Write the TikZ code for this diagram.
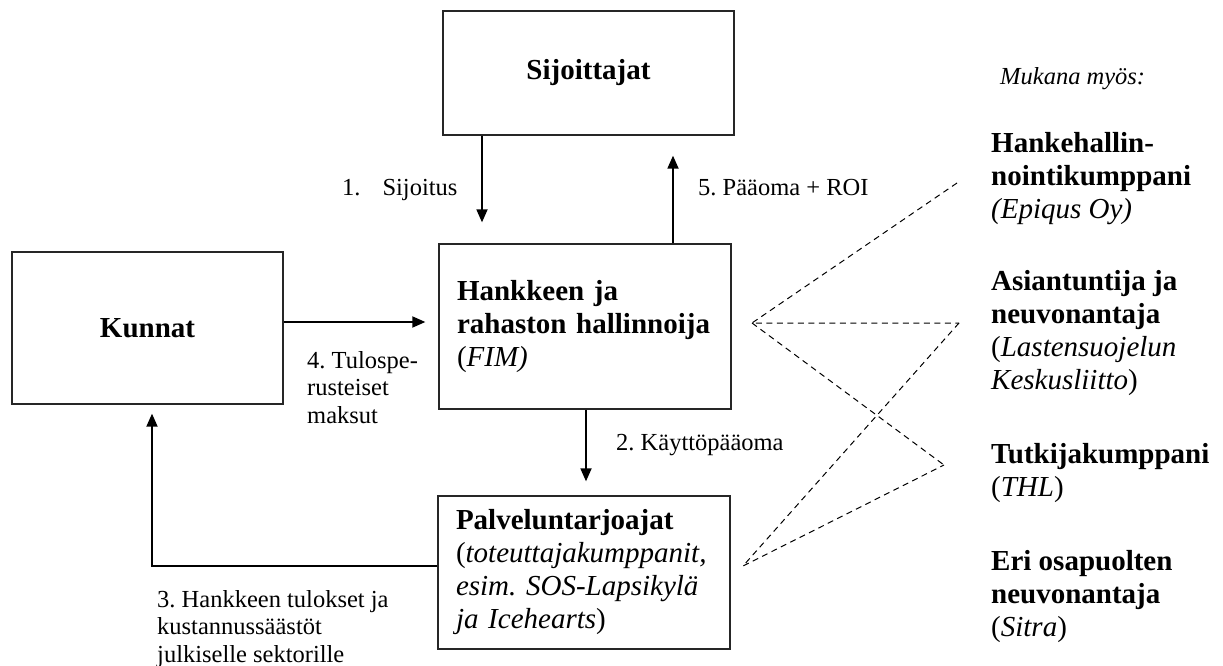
\documentclass[tikz,border=0pt]{standalone}
\usepackage{fontspec}
\setmainfont{Liberation Serif}
\usetikzlibrary{arrows.meta}
\newcommand\bxfont{\fontsize{29}{33}\selectfont}
\newcommand\lbfont{\fontsize{24.5}{27.5}\selectfont}
\newcommand\mkfont{\fontsize{24.5}{27.5}\selectfont}
\frenchspacing
\begin{document}
\begin{tikzpicture}[x=1pt,y=-1pt,
  boxc/.style={draw=black!85, line width=1.3pt, inner sep=0pt, font=\bxfont\bfseries, align=center},
  boxl/.style={draw=black!85, line width=1.3pt, inner xsep=18pt, inner ysep=0pt, font=\bxfont, text width=256pt, align=left},
  lab/.style={font=\lbfont, anchor=base west, inner sep=0pt, align=left},
  side/.style={font=\bxfont, anchor=base west, inner sep=0pt, align=left},
  arr/.style={line width=1.8pt, -{Triangle[length=13pt,width=11pt]}},
  dsh/.style={line width=1pt, dash pattern=on 6pt off 4.5pt}
]
\useasboundingbox (0,0) rectangle (1223,666);

% boxes
\node[boxc, minimum width=291pt, minimum height=124pt] (sij) at (588.5,73) {Sijoittajat};
\node[boxc, minimum width=271pt, minimum height=152pt] (kun) at (147.5,328) {Kunnat};
\node[boxl, minimum height=165pt] (hank) at (585,326.5)
  {\textbf{Hankkeen ja}\\\textbf{rahaston hallinnoija}\\(\textit{FIM)}};
\node[boxl, minimum height=153pt] (palv) at (584,572.5)
  {\textbf{Palveluntarjoajat}\\(\textit{toteuttajakumppanit,}\\\textit{esim. SOS-Lapsikylä}\\\textit{ja Icehearts})};

% helper coordinates
\coordinate (x1) at (482,0);
\coordinate (x5) at (673,0);
\coordinate (x2) at (586,0);
\coordinate (x3) at (152,0);
\coordinate (y4) at (0,322);
\coordinate (y3) at (0,566);

% arrows
\draw[arr, shorten >=21pt] (x1 |- sij.south) -- (x1 |- hank.north);
\draw[arr, shorten >=20pt] (x5 |- hank.north) -- (x5 |- sij.south);
\draw[arr, shorten >=13pt] (y4 -| kun.east) -- (y4 -| hank.west);
\draw[arr, shorten >=14pt] (x2 |- hank.south) -- (x2 |- palv.north);
\draw[arr, shorten >=9pt] (y3 -| palv.west) -| (x3 |- kun.south);

% arrow labels (multi-line: base = baseline of last line)
\node[lab] (l1) at (342,195) {1.\hspace{22pt}Sijoitus};
\node[lab] (l5) at (698,195) {5. Pääoma + ROI};
\node[lab] (l2) at (616,450) {2. Käyttöpääoma};
\node[lab] (l4) at (307,423) {4. Tulospe-\\rusteiset\\maksut};
\node[lab] (l3) at (157,662) {3. Hankkeen tulokset ja\\kustannussäästöt\\julkiselle sektorille};

% right side
\node[font=\mkfont\itshape, anchor=base west, inner sep=0pt] (mk) at (1000,85) {Mukana myös:};
\node[side] (r1) at (991,218) {\textbf{Hankehallin-}\\\textbf{nointikumppani}\\\textit{(Epiqus Oy)}};
\node[side] (r2) at (991,389) {\textbf{Asiantuntija ja}\\\textbf{neuvonantaja}\\(\textit{Lastensuojelun}\\\textit{Keskusliitto})};
\node[side] (r3) at (991,496) {\textbf{Tutkijakumppani}\\(\textit{THL})};
\node[side] (r4) at (991,636) {\textbf{Eri osapuolten}\\\textbf{neuvonantaja}\\(\textit{Sitra})};

% dashed connectors
\coordinate (d1) at (752,323);
\coordinate (d2) at (743,566);
\coordinate (e1) at (957,183);
\coordinate (e2) at (959,323);
\coordinate (e3) at (944,465);
\draw[dsh] (e1) -- (d1) -- (e2);
\draw[dsh] (d1) -- (e3);
\draw[dsh] (e2) -- (d2) -- (e3);
\end{tikzpicture}
\end{document}
